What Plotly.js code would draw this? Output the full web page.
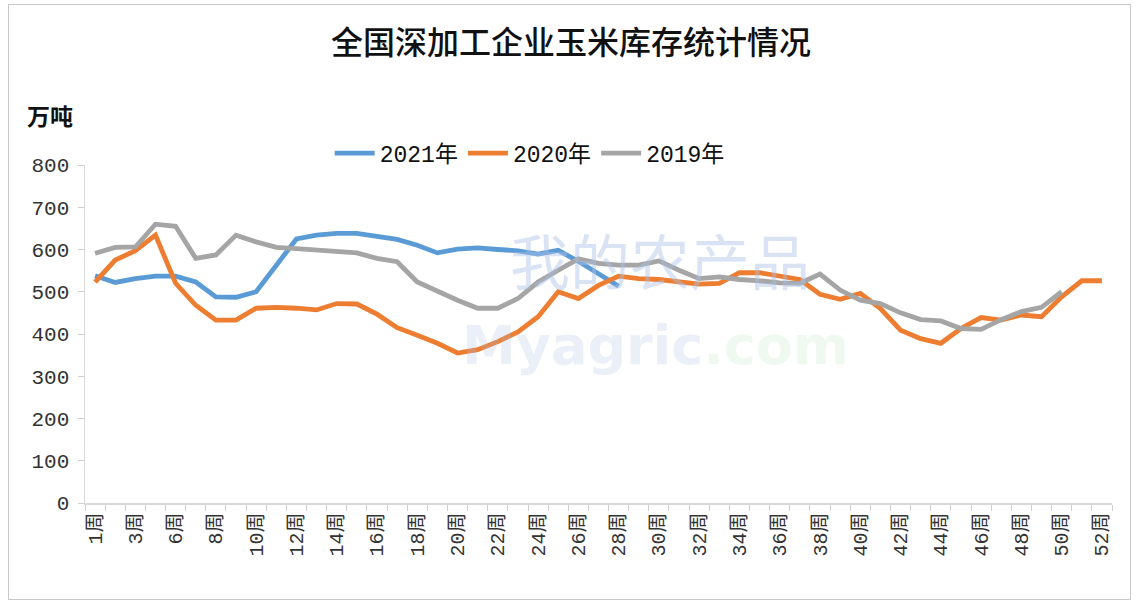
<!DOCTYPE html>
<html>
<head>
<meta charset="utf-8">
<script src="https://cdn.plot.ly/plotly-3.0.1.min.js"></script>
<style>
  html, body { margin: 0; padding: 0; background: #ffffff; }
  #wrap { position: relative; width: 1138px; height: 608px; }
  #chart { width: 1138px; height: 608px; }
  #frame { position: absolute; left: 8px; top: 4px; width: 1121px; height: 594px; border: 1px solid #c8c8c8; pointer-events: none; }
</style>
</head>
<body>
<div id="wrap">
  <div id="chart"></div>
  <div id="frame"></div>
</div>
<script>
// Categories (week 4 is absent in the source data)
const weekLabels = ['1周','2周','3周','5周','6周','7周','8周','9周','10周','11周','12周','13周','14周','15周','16周','17周','18周','19周','20周','21周','22周','23周','24周','25周','26周','27周','28周','29周','30周','31周','32周','33周','34周','35周','36周','37周','38周','39周','40周','41周','42周','43周','44周','45周','46周','47周','48周','49周','50周','51周','52周'];

// Series values (万吨)
const values2021 = [538,522,531,537,537,523,488,487,500,563,625,634,638,638,631,624,610,592,601,604,600,597,589,598,572,543,513];
const values2020 = [523,575,597,634,520,468,433,433,461,463,461,457,472,471,447,415,397,378,355,363,382,405,441,500,484,515,537,531,529,524,518,520,545,545,537,529,494,482,496,460,409,389,378,413,439,433,445,441,488,526,526];
const values2019 = [591,605,606,660,655,579,587,634,618,605,602,599,595,592,579,571,523,500,480,461,461,484,523,551,578,567,563,563,573,551,531,535,529,526,521,520,542,504,480,472,450,434,431,413,411,434,453,463,500];

const seriesNames = ['2021年','2020年','2019年'];
const yTickVals = [0,100,200,300,400,500,600,700,800];

const idx = arr => arr.map((_, i) => i);
const shownTickIdx = weekLabels.map((_, i) => i).filter(i => i % 2 === 0);
const shownTickText = shownTickIdx.map(i => weekLabels[i]);

const mkTrace = (vals, name, color) => ({
  x: idx(vals), y: vals, name: name, type: 'scatter', mode: 'lines',
  line: { color: color, width: 4.8, shape: 'linear' },
  text: vals.map((_, i) => weekLabels[i]),
  hovertemplate: '%{text}: %{y}<extra>' + name + '</extra>'
});

const traces = [
  mkTrace(values2021, seriesNames[0], '#5b9bd5'),
  mkTrace(values2020, seriesNames[1], '#ed7d31'),
  mkTrace(values2019, seriesNames[2], '#a5a5a5')
];

const yTickFont = { family: 'Liberation Mono, Noto Sans CJK SC, monospace', size: 21, color: '#333333' };
const xTickFont = { family: 'Liberation Mono, Noto Sans CJK SC, monospace', size: 20, color: '#333333' };

const layout = {
  width: 1138, height: 608,
  margin: { l: 85, r: 26, t: 165, b: 105 },
  paper_bgcolor: '#ffffff', plot_bgcolor: '#ffffff',
  title: {
    text: '全国深加工企业玉米库存统计情况',
    font: { family: 'Noto Sans CJK SC, sans-serif', size: 32, color: '#111111', weight: 500 },
    x: 571 / 1138, xanchor: 'center', xref: 'container',
    y: 1 - 43 / 608, yanchor: 'middle', yref: 'container'
  },
  showlegend: true,
  legend: {
    orientation: 'h', x: 0.433, xanchor: 'center', y: 1.035, yanchor: 'middle',
    font: { family: 'Liberation Mono, Noto Sans CJK SC, monospace', size: 23, color: '#111111' },
    itemwidth: 40, traceorder: 'normal', bgcolor: 'rgba(0,0,0,0)'
  },
  xaxis: {
    type: 'linear', range: [-0.5, weekLabels.length - 0.5],
    tickmode: 'array', tickvals: shownTickIdx, ticktext: shownTickText,
    tickangle: -90, tickfont: xTickFont, ticks: '',
    showgrid: false, zeroline: false,
    showline: true, linecolor: '#d9d9d9', linewidth: 1.5,
    minor: { tickmode: 'linear', tick0: -0.5, dtick: 1, ticks: 'outside', ticklen: 6, tickcolor: '#d0d0d0', tickwidth: 1, showgrid: false },
    fixedrange: true
  },
  yaxis: {
    range: [0, 800], tickmode: 'array', tickvals: yTickVals,
    tickfont: yTickFont, ticks: 'outside', ticklen: 6, tickcolor: '#d0d0d0',
    ticklabelstandoff: 4,
    showgrid: false, zeroline: false,
    showline: true, linecolor: '#d9d9d9', linewidth: 1.5,
    fixedrange: true
  },
  annotations: [
    {
      text: '<b>万吨</b>', xref: 'paper', yref: 'paper',
      x: (50 - 85) / 1027, y: (503 - 115) / 338, xanchor: 'center', yanchor: 'middle',
      showarrow: false, font: { family: 'Noto Sans CJK SC, sans-serif', size: 23, color: '#111111' }
    },
    {
      text: '我的农产品',
      xref: 'paper', yref: 'paper',
      x: (660 - 85) / 1027, y: (503 - 258) / 338, xanchor: 'center', yanchor: 'middle',
      showarrow: false, font: { family: 'Noto Sans CJK SC, sans-serif', size: 60, color: 'rgba(170,192,228,0.45)' }
    },
    {
      text: '<b><span style="color:rgba(170,192,228,0.5)">Myagric</span><span style="color:rgba(190,232,195,0.5)">.com</span></b>',
      xref: 'paper', yref: 'paper',
      x: (655 - 85) / 1027, y: (503 - 345) / 338, xanchor: 'center', yanchor: 'middle',
      showarrow: false, font: { family: 'DejaVu Sans, sans-serif', size: 54, color: 'rgba(170,192,228,0.5)' }
    }
  ]
};

Plotly.newPlot('chart', traces, layout, { displayModeBar: false, staticPlot: true });
</script>
</body>
</html>
